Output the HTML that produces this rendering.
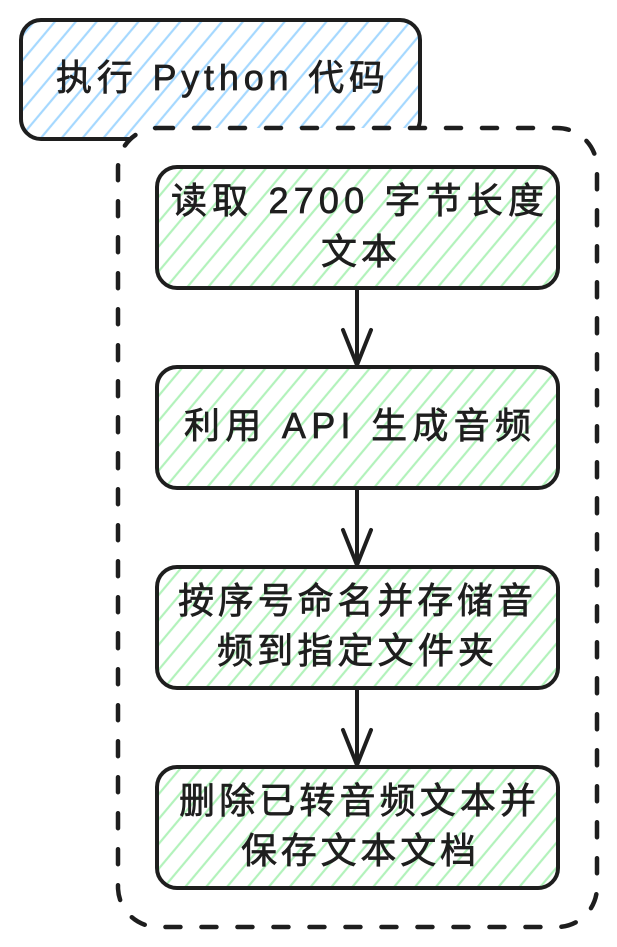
<!DOCTYPE html>
<html>
<head>
<meta charset="utf-8">
<style>
  html, body { margin: 0; padding: 0; background: #ffffff; }
  svg { display: block; }
  text {
    font-family: "Liberation Sans", "Noto Sans CJK SC", sans-serif;
    font-size: 36px;
    fill: #1e1e1e;
    stroke: #1e1e1e;
    stroke-width: 0.7px;
  }
</style>
</head>
<body>
<svg width="617" height="947" viewBox="0 0 617 947" xmlns="http://www.w3.org/2000/svg">
  <defs>
    <pattern id="hb" patternUnits="userSpaceOnUse" width="16" height="16" patternTransform="rotate(40)">
      <line x1="8" y1="-2" x2="8" y2="18" stroke="#a5d8ff" stroke-width="2.2"/>
    </pattern>
    <pattern id="hg" patternUnits="userSpaceOnUse" width="16" height="16" patternTransform="rotate(40)">
      <line x1="8" y1="-2" x2="8" y2="18" stroke="#b2f2bb" stroke-width="2.2"/>
    </pattern>
  </defs>

  <!-- Blue box -->
  <rect x="21" y="20" width="399" height="119" rx="20" ry="20" fill="#ffffff"/>
  <rect x="21" y="20" width="399" height="119" rx="20" ry="20" fill="url(#hb)" stroke="#1e1e1e" stroke-width="4"/>
  <text x="56" y="90" textLength="329" lengthAdjust="spacing">执行 Python 代码</text>

  <!-- Dashed container (white fill, over blue box) -->
  <rect x="118" y="128" width="479" height="799" rx="40" ry="40" fill="#ffffff" stroke="#1e1e1e" stroke-width="4.5" stroke-dasharray="15 21" stroke-linecap="round"/>

  <!-- Green box 1 -->
  <rect x="157" y="167" width="401" height="121" rx="20" ry="20" fill="url(#hg)" stroke="#1e1e1e" stroke-width="4"/>
  <text x="171" y="213" textLength="373" lengthAdjust="spacing">读取 2700 字节长度</text>
  <text x="321" y="264" textLength="76" lengthAdjust="spacing">文本</text>

  <!-- Arrow 1 -->
  <g stroke="#1e1e1e" stroke-width="4" stroke-linecap="round" stroke-linejoin="round" fill="none">
    <line x1="357" y1="290" x2="357" y2="365"/>
    <polyline points="343,330 357,365 371,330"/>
  </g>

  <!-- Green box 2 -->
  <rect x="157" y="367" width="401" height="121" rx="20" ry="20" fill="url(#hg)" stroke="#1e1e1e" stroke-width="4"/>
  <text x="184" y="438" textLength="347" lengthAdjust="spacing">利用 API 生成音频</text>

  <!-- Arrow 2 -->
  <g stroke="#1e1e1e" stroke-width="4" stroke-linecap="round" stroke-linejoin="round" fill="none">
    <line x1="357" y1="490" x2="357" y2="565"/>
    <polyline points="343,530 357,565 371,530"/>
  </g>

  <!-- Green box 3 -->
  <rect x="157" y="567" width="401" height="121" rx="20" ry="20" fill="url(#hg)" stroke="#1e1e1e" stroke-width="4"/>
  <text x="178" y="613" textLength="355" lengthAdjust="spacing">按序号命名并存储音</text>
  <text x="217" y="663" textLength="277" lengthAdjust="spacing">频到指定文件夹</text>

  <!-- Arrow 3 -->
  <g stroke="#1e1e1e" stroke-width="4" stroke-linecap="round" stroke-linejoin="round" fill="none">
    <line x1="357" y1="690" x2="357" y2="765"/>
    <polyline points="343,730 357,765 371,730"/>
  </g>

  <!-- Green box 4 -->
  <rect x="157" y="767" width="401" height="121" rx="20" ry="20" fill="url(#hg)" stroke="#1e1e1e" stroke-width="4"/>
  <text x="179" y="813" textLength="357" lengthAdjust="spacing">删除已转音频文本并</text>
  <text x="241" y="863" textLength="235" lengthAdjust="spacing">保存文本文档</text>
</svg>
</body>
</html>
